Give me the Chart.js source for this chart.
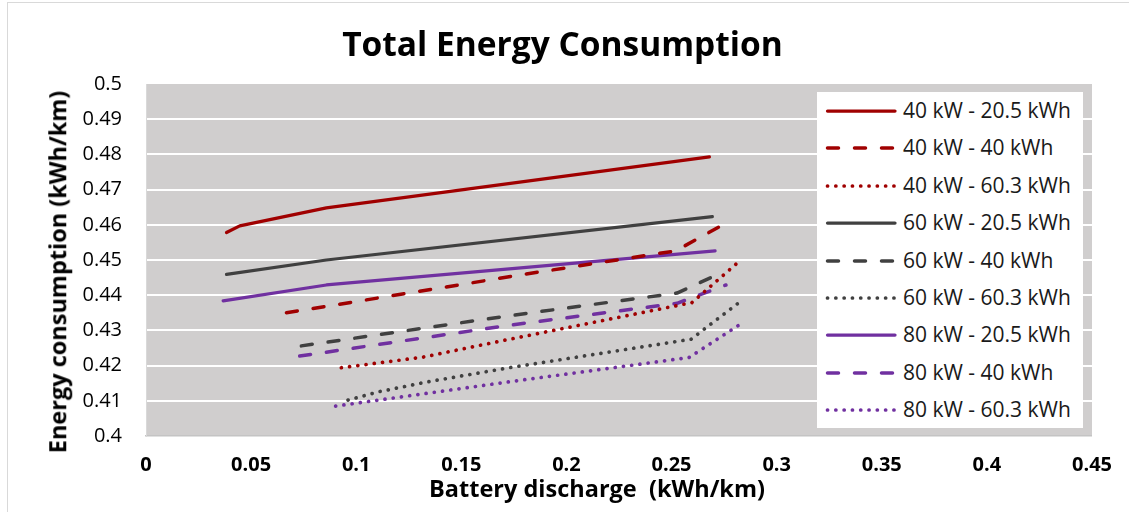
<!DOCTYPE html>
<html>
<head>
<meta charset="utf-8">
<script src="https://cdn.jsdelivr.net/npm/chart.js@4.4.1/dist/chart.umd.min.js"></script>
<style>
  html, body { margin: 0; padding: 0; background: #fff; }
  #wrap { position: relative; width: 1129px; height: 512px; overflow: hidden; }
  #frame { position: absolute; left: 7px; top: 2px; width: 1140px; height: 540px; border: 1px solid #d9d9d9; box-sizing: border-box; }
  #chart { position: absolute; left: 0; top: 0; }
  .txt { position: absolute; font-family: "Open Sans", sans-serif; color: #000; white-space: pre; line-height: 1; }
  #title { left: 0; width: 1125px; top: 27px; text-align: center; font-size: 33.5px; font-weight: bold; }
  #xTitle { left: 297px; width: 600px; top: 477px; text-align: center; font-size: 23.5px; font-weight: bold; }
  #yTitle { left: 58px; top: 272px; font-size: 23.5px; font-weight: bold; transform: translate(-50%, -50%) rotate(-90deg); }
  #legend { position: absolute; left: 817px; top: 92px; width: 266px; height: 336px; background: #fff; }
  .row { position: absolute; left: 0; height: 30px; width: 266px; }
  .row svg { position: absolute; left: 0; top: 0; }
  .row span { position: absolute; left: 86px; top: 4px; font-family: "Open Sans", sans-serif; font-size: 21px; line-height: 1; color: #1a1a1a; white-space: pre; }
</style>
</head>
<body>
<div id="wrap">
  <div id="frame"></div>
  <canvas id="chart" width="1129" height="512"></canvas>
  <div class="txt" id="title"></div>
  <div class="txt" id="xTitle"></div>
  <div class="txt" id="yTitle"></div>
  <div id="legend"></div>
</div>
<script>
// Titles and tick labels
const chartTitle = 'Total Energy Consumption';
const xAxisTitle = 'Battery discharge  (kWh/km)';
const yAxisTitle = 'Energy consumption (kWh/km)';
const xTickLabels = ['0', '0.05', '0.1', '0.15', '0.2', '0.25', '0.3', '0.35', '0.4', '0.45'];
const yTickLabels = ['0.4', '0.41', '0.42', '0.43', '0.44', '0.45', '0.46', '0.47', '0.48', '0.49', '0.5'];

// Series names (charger power - battery capacity)
const seriesNames = [
  '40 kW - 20.5 kWh', '40 kW - 40 kWh', '40 kW - 60.3 kWh',
  '60 kW - 20.5 kWh', '60 kW - 40 kWh', '60 kW - 60.3 kWh',
  '80 kW - 20.5 kWh', '80 kW - 40 kWh', '80 kW - 60.3 kWh'
];

// Battery discharge (x) and energy consumption (y), kWh/km
const x40kW_20_5 = [0.0383, 0.0446, 0.0858, 0.2680];
const y40kW_20_5 = [0.4578, 0.4597, 0.4648, 0.4793];
const x40kW_40 = [0.0668, 0.1807, 0.2520, 0.2741];
const y40kW_40 = [0.4350, 0.4460, 0.4526, 0.4599];
const x40kW_60_3 = [0.0929, 0.1317, 0.1697, 0.2597, 0.2829];
const y40kW_60_3 = [0.4194, 0.4224, 0.4271, 0.4379, 0.4500];

const x60kW_20_5 = [0.0383, 0.0858, 0.2694];
const y60kW_20_5 = [0.4459, 0.4500, 0.4623];
const x60kW_40 = [0.0739, 0.1720, 0.2526, 0.2749];
const y60kW_40 = [0.4256, 0.4341, 0.4406, 0.4467];
const x60kW_60_3 = [0.0961, 0.1110, 0.1340, 0.1728, 0.2593, 0.2836];
const y60kW_60_3 = [0.4102, 0.4126, 0.4154, 0.4194, 0.4275, 0.4386];

const x80kW_20_5 = [0.0367, 0.0858, 0.2707];
const y80kW_20_5 = [0.4384, 0.4429, 0.4526];
const x80kW_40 = [0.0731, 0.1720, 0.2526, 0.2759];
const y80kW_40 = [0.4227, 0.4314, 0.4377, 0.4429];
const x80kW_60_3 = [0.0902, 0.1728, 0.2583, 0.2841];
const y80kW_60_3 = [0.4085, 0.4154, 0.4223, 0.4323];

const seriesX = [x40kW_20_5, x40kW_40, x40kW_60_3, x60kW_20_5, x60kW_40, x60kW_60_3, x80kW_20_5, x80kW_40, x80kW_60_3];
const seriesY = [y40kW_20_5, y40kW_40, y40kW_60_3, y60kW_20_5, y60kW_40, y60kW_60_3, y80kW_20_5, y80kW_40, y80kW_60_3];

// Styling: colour per charger power, dash pattern per battery size
const powerColors = ['#A00000', '#404040', '#7030A0'];
const lineStyles = [
  { dash: [], width: 3.25, cap: 'round' },
  { dash: [11, 16], width: 3.5, cap: 'round' },
  { dash: [0.1, 8.2], width: 3.7, cap: 'round' }
];

const datasets = seriesNames.map((name, i) => {
  const style = lineStyles[i % 3];
  return {
    label: name,
    data: seriesX[i].map((x, j) => ({ x: x, y: seriesY[i][j] })),
    borderColor: powerColors[Math.floor(i / 3)],
    backgroundColor: powerColors[Math.floor(i / 3)],
    borderWidth: style.width,
    borderDash: style.dash,
    borderCapStyle: style.cap,
    borderJoinStyle: 'round',
    pointRadius: 0,
    fill: false,
    tension: 0
  };
});

// Grey fill behind the plotting area
const plotBackground = {
  id: 'plotBackground',
  beforeDraw(chart) {
    const { ctx, chartArea: a } = chart;
    ctx.save();
    ctx.fillStyle = '#D0CECE';
    ctx.fillRect(a.left, a.top, a.right - a.left, a.bottom - a.top);
    ctx.restore();
  }
};

const chart = new Chart(document.getElementById('chart'), {
  type: 'line',
  data: { datasets: datasets },
  plugins: [plotBackground],
  options: {
    responsive: false,
    animation: false,
    devicePixelRatio: 1,
    layout: { padding: { left: 0, right: 36, top: 84, bottom: 0 } },
    plugins: {
      legend: { display: false },
      tooltip: { enabled: false },
      title: { display: false }
    },
    scales: {
      x: {
        type: 'linear',
        min: 0,
        max: 0.45,
        afterFit(scale) { scale.height = 76; },
        ticks: {
          stepSize: 0.05,
          autoSkip: false,
          maxRotation: 0,
          padding: 17,
          color: '#000',
          font: { family: 'Open Sans', weight: 'bold', size: 20 },
          callback: (value, index) => xTickLabels[index]
        },
        grid: { display: false, drawTicks: false },
        border: { display: true, color: '#C4C4C4', width: 1.5 }
      },
      y: {
        type: 'linear',
        min: 0.4,
        max: 0.5,
        afterFit(scale) { scale.width = 146; },
        ticks: {
          stepSize: 0.01,
          padding: 24,
          color: '#000',
          font: { family: 'Open Sans', size: 20 },
          callback: (value, index) => yTickLabels[index]
        },
        grid: {
          drawTicks: false,
          lineWidth: 2,
          color: (c) => (c.index === yTickLabels.length - 1 ? 'rgba(0,0,0,0)' : '#FFFFFF')
        },
        border: { display: true, color: '#D9D9D9', width: 1 }
      }
    }
  }
});

// Text elements
document.getElementById('title').textContent = chartTitle;
document.getElementById('xTitle').textContent = xAxisTitle;
document.getElementById('yTitle').textContent = yAxisTitle;

// Legend built from the chart's datasets
const legendEl = document.getElementById('legend');
const svgNS = 'http://www.w3.org/2000/svg';
chart.data.datasets.forEach((ds, i) => {
  const row = document.createElement('div');
  row.className = 'row';
  row.style.top = (4 + i * 37.4) + 'px';
  const svg = document.createElementNS(svgNS, 'svg');
  svg.setAttribute('width', '90');
  svg.setAttribute('height', '30');
  const line = document.createElementNS(svgNS, 'line');
  line.setAttribute('x1', '10.5');
  line.setAttribute('x2', '78');
  line.setAttribute('y1', '15');
  line.setAttribute('y2', '15');
  line.setAttribute('stroke', ds.borderColor);
  line.setAttribute('stroke-width', ds.borderWidth);
  line.setAttribute('stroke-linecap', ds.borderCapStyle);
  if (ds.borderDash.length) line.setAttribute('stroke-dasharray', ds.borderDash.join(' '));
  svg.appendChild(line);
  const label = document.createElement('span');
  label.textContent = ds.label;
  row.appendChild(svg);
  row.appendChild(label);
  legendEl.appendChild(row);
});
</script>
</body>
</html>
